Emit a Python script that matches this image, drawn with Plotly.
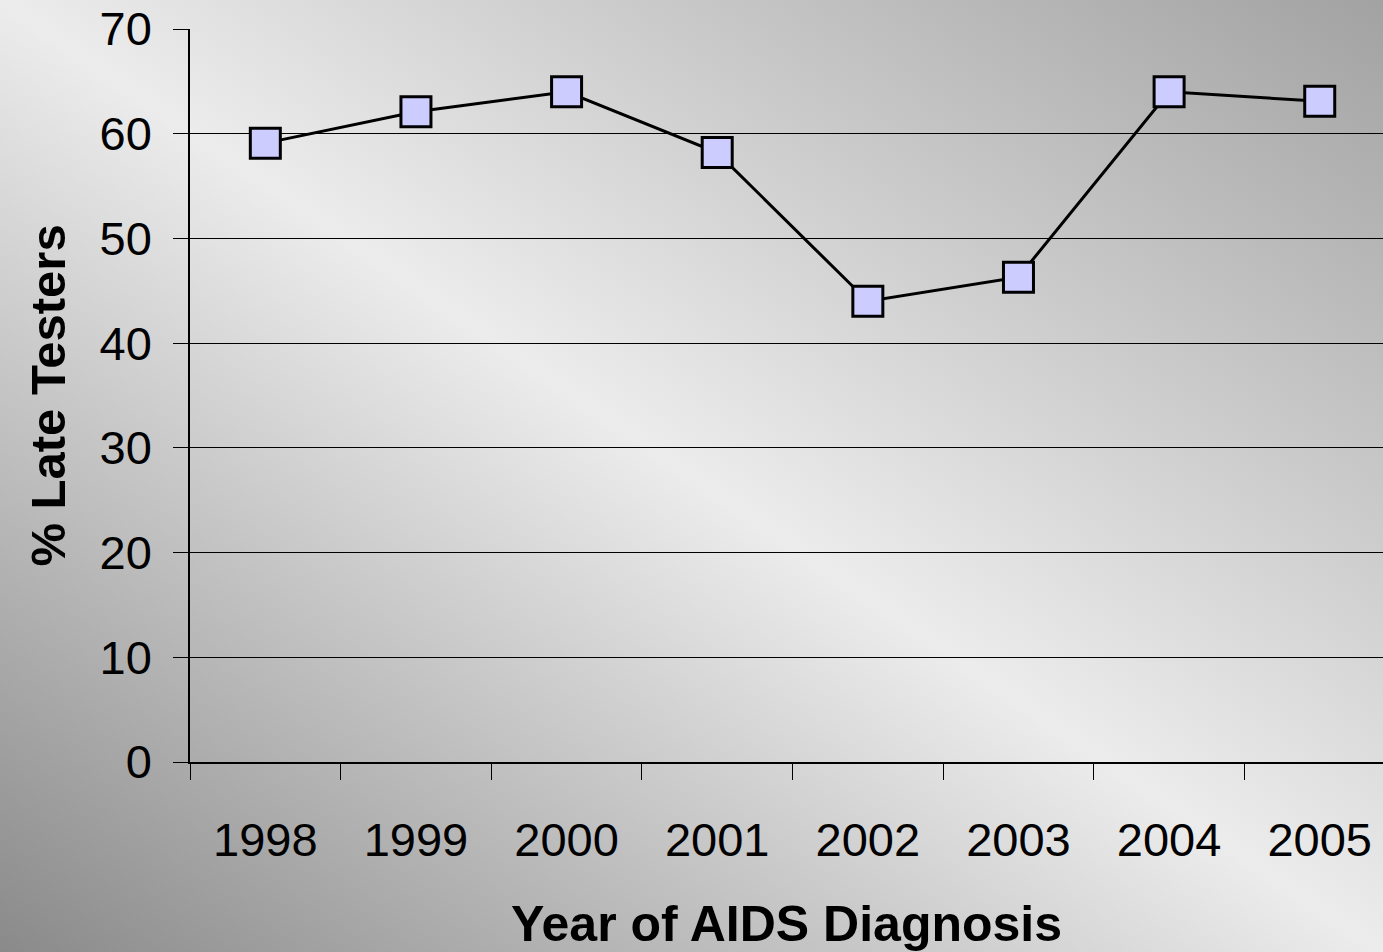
import base64
import plotly.graph_objects as go

years = ["1998", "1999", "2000", "2001", "2002", "2003", "2004", "2005"]
late_pct = [59.1, 62.1, 64.0, 58.2, 44.0, 46.3, 64.0, 63.1]
y_ticks = [0, 10, 20, 30, 40, 50, 60, 70]

W, H = 1383, 952
L, R, T, B = 190, 0, 29, 190

# diagonal grey gradient behind everything (dark bottom-left, light middle, darker top-right)
svg = f"""<svg xmlns='http://www.w3.org/2000/svg' width='{W}' height='{H}' preserveAspectRatio='none'>
<defs><linearGradient id='g' x1='0' y1='1' x2='1' y2='0'>
<stop offset='0' stop-color='#8a8a8a'/>
<stop offset='0.5' stop-color='#ececec'/>
<stop offset='1' stop-color='#a2a2a2'/>
</linearGradient></defs>
<rect width='{W}' height='{H}' fill='url(#g)'/></svg>"""
bg_uri = "data:image/svg+xml;base64," + base64.b64encode(svg.encode()).decode()

fig = go.Figure()
fig.add_trace(go.Scatter(
    x=years, y=late_pct, mode="lines+markers",
    line=dict(color="black", width=3),
    marker=dict(symbol="square", size=30, color="#ccccff",
                line=dict(color="black", width=3)),
    showlegend=False, hoverinfo="x+y",
))

# paper coords are relative to the plot area, so stretch the image over the margins
pw, ph = W - L - R, H - T - B
fig.add_layout_image(dict(
    source=bg_uri, xref="paper", yref="paper",
    x=-L / pw, y=1 + T / ph, sizex=W / pw, sizey=H / ph,
    xanchor="left", yanchor="top", sizing="stretch", layer="below",
))

font = "Liberation Sans, Arial, sans-serif"
fig.update_layout(
    width=W, height=H,
    margin=dict(l=L, r=R, t=T, b=B),
    paper_bgcolor="#d8d8d8",
    plot_bgcolor="rgba(0,0,0,0)",
    font=dict(family=font, color="black"),
    xaxis=dict(
        type="category", range=[-0.5, 7.42],
        showline=True, linecolor="black", linewidth=1.5,
        ticks="outside", tickson="boundaries", ticklen=16, tickcolor="black",
        showgrid=False, ticklabelstandoff=36,
        tickfont=dict(size=47),
        title=dict(text="<b>Year of AIDS Diagnosis</b>", font=dict(size=50), standoff=42),
    ),
    yaxis=dict(
        range=[0, 70], tickvals=y_ticks,
        showline=True, linecolor="black", linewidth=1.5,
        ticks="outside", ticklen=15, tickcolor="black",
        showgrid=True, gridcolor="black", gridwidth=1,
        zeroline=False, ticklabelstandoff=12,
        tickfont=dict(size=47),
        title=dict(text="<b>% Late Testers</b>", font=dict(size=49), standoff=18),
    ),
)

fig.write_html("out.html", config={"displayModeBar": False},
               post_script="document.body.style.margin='0';")
